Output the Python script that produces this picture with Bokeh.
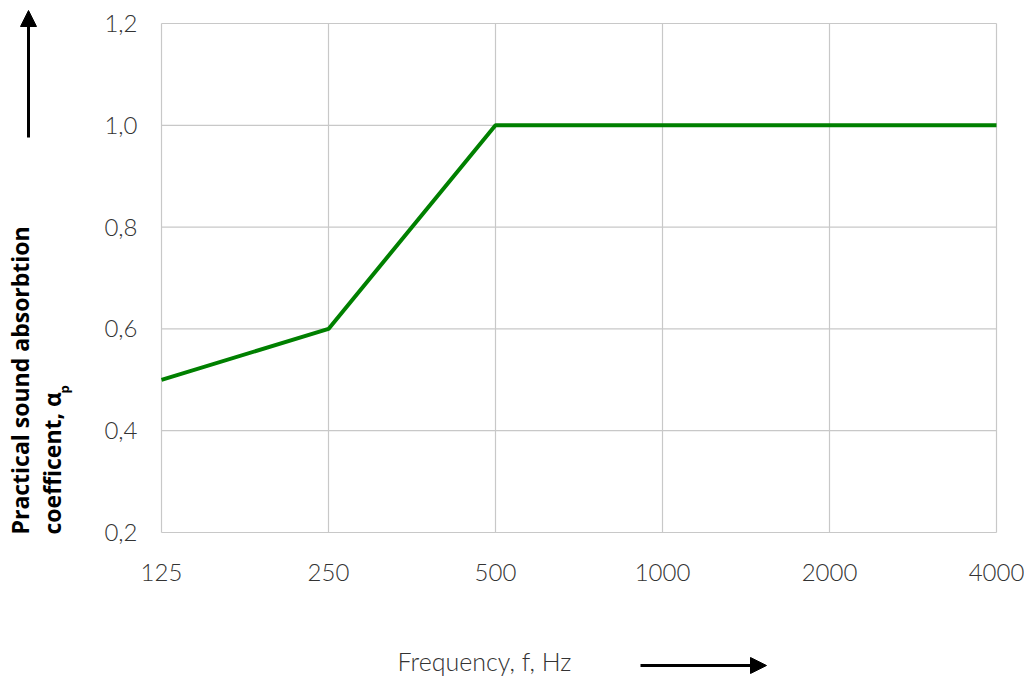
import math
from bokeh.plotting import figure
from bokeh.models import Range1d, Arrow, NormalHead
from bokeh.core.properties import value
from bokeh.embed import file_html
from bokeh.resources import INLINE

freq_labels = ["125", "250", "500", "1000", "2000", "4000"]
alpha_p = [0.5, 0.6, 1.0, 1.0, 1.0, 1.0]
y_ticks = [0.2, 0.4, 0.6, 0.8, 1.0, 1.2]
y_tick_labels = ["0,2", "0,4", "0,6", "0,8", "1,0", "1,2"]
x_title = "Frequency, f, Hz"
y_title_1 = "Practical sound absorbtion"
y_title_2 = "coefficent, α"
y_title_sub = "p"

xs = list(range(len(freq_labels)))

# canvas size and where the plotting box sits on it (pixels)
W, H = 1024, 676
BOX_L, BOX_R, BOX_T, BOX_B = 161, 996, 23, 532
x_lo, x_hi = xs[0], xs[-1]
y_lo, y_hi = y_ticks[0], y_ticks[-1]
kx = (BOX_R - BOX_L) / (x_hi - x_lo)
ky = (BOX_B - BOX_T) / (y_hi - y_lo)

def X(px):
    return x_lo + (px - BOX_L) / kx

def Y(py):
    return y_lo + (BOX_B - py) / ky

p = figure(width=W, height=H, output_backend="svg", toolbar_location=None,
           x_range=Range1d(X(0), X(W)), y_range=Range1d(Y(H), Y(0)),
           min_border=0, x_axis_type=None, y_axis_type=None)
p.xgrid.visible = False
p.ygrid.visible = False
p.outline_line_color = None
p.background_fill_color = "white"
p.border_fill_color = "white"

GRID = "#c8c8c8"
# grid lines (also form the plotting box)
p.segment(x0=xs, y0=[y_lo] * len(xs), x1=xs, y1=[y_hi] * len(xs), line_color=GRID, line_width=1.2)
p.segment(x0=[x_lo] * len(y_ticks), y0=y_ticks, x1=[x_hi] * len(y_ticks), y1=y_ticks,
          line_color=GRID, line_width=1.2)

# data line
p.line(xs, alpha_p, line_color="#008000", line_width=4)

# tick labels
TICK_FONT = value("Lato Light")
p.text(x=[X(137)] * len(y_ticks), y=y_ticks, text=y_tick_labels, text_font=TICK_FONT,
       text_font_size="24px", text_color="#333333", text_align="right", text_baseline="middle")
p.text(x=xs, y=[Y(572)] * len(xs), text=freq_labels, text_font=TICK_FONT,
       text_font_size="24px", text_color="#333333", text_align="center", text_baseline="middle")

# x title + arrow
p.text(x=[X(484)], y=[Y(660)], text=[x_title], text_font=TICK_FONT, text_font_size="25px",
       text_color="#333333", text_align="center", text_baseline="middle")
p.add_layout(Arrow(x_start=X(640), y_start=Y(665), x_end=X(766), y_end=Y(665),
                   line_color="black", line_width=3,
                   end=NormalHead(size=16, fill_color="black", line_color="black")))

# y title + arrow
p.add_layout(Arrow(x_start=X(28), y_start=Y(137), x_end=X(28), y_end=Y(10),
                   line_color="black", line_width=3,
                   end=NormalHead(size=16, fill_color="black", line_color="black")))
TITLE_FONT = value("Open Sans")
p.text(x=[X(19)], y=[Y(534)], text=[y_title_1], angle=math.pi / 2, text_font=TITLE_FONT,
       text_font_size="23px", text_font_style="bold", text_color="black",
       text_align="left", text_baseline="alphabetic")
p.text(x=[X(51)], y=[Y(534)], text=[y_title_2], angle=math.pi / 2, text_font=TITLE_FONT,
       text_font_size="23px", text_font_style="bold", text_color="black",
       text_align="left", text_baseline="alphabetic")
p.text(x=[X(63)], y=[Y(393)], text=[y_title_sub], angle=math.pi / 2, text_font=TITLE_FONT,
       text_font_size="13px", text_font_style="bold", text_color="black",
       text_align="left", text_baseline="alphabetic")

open("out.html", "w").write(file_html(p, INLINE))
